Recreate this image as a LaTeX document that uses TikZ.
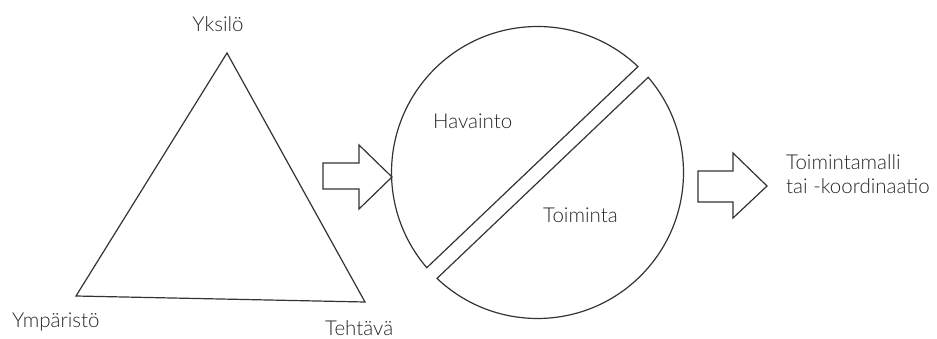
\documentclass[tikz,border=0pt]{standalone}
\usepackage{fontspec}
\setmainfont{Lato}[UprightFont=* Light]
\begin{document}
\begin{tikzpicture}[x=1pt,y=1pt,
  shape line/.style={draw=black!80, line width=1.2pt, line join=miter},
  lbl/.style={inner sep=0pt, text=black!85, font=\fontsize{20.5}{24}\selectfont}]
\useasboundingbox (0,0) rectangle (937,338);
% triangle
\coordinate (apex) at (227,285);
\coordinate (bl) at (76,42);
\coordinate (br) at (365,36);
\draw[shape line] (apex) -- (bl) -- (br) -- cycle;
\node[lbl, anchor=base] (yksilo) at (218,306) {Yksilö};
\node[lbl, anchor=base west] (ymparisto) at (12,11) {Ympäristö};
\node[lbl, anchor=base west] (tehtava) at (325,3) {Tehtävä};
% left block arrow
\draw[shape line] (323,149) -- (323,175) -- (359,175) -- (359,193) -- (392,161)
  -- (359,129) -- (359,149) -- cycle;
% split circle
\coordinate (c) at (537.5,165.5);
\draw[shape line] (c) ++(46.5:146pt) arc[start angle=46.5, end angle=220.7, radius=146pt] -- cycle;
\draw[shape line] (c) ++(226.5:146pt) arc[start angle=226.5, end angle=400.7, radius=146pt] -- cycle;
\node[lbl, anchor=base west] (havainto) at (433,209) {Havainto};
\node[lbl, anchor=base west] (toiminta) at (543,116) {Toiminta};
% right block arrow
\draw[shape line] (698,136) -- (698,167) -- (733,167) -- (733,185) -- (767,152)
  -- (733,120) -- (733,136) -- cycle;
\node[lbl, anchor=base west] (malli1) at (786,169) {Toimintamalli};
\node[lbl, anchor=base west] (malli2) at (786,145) {tai -koordinaatio};
\end{tikzpicture}
\end{document}
